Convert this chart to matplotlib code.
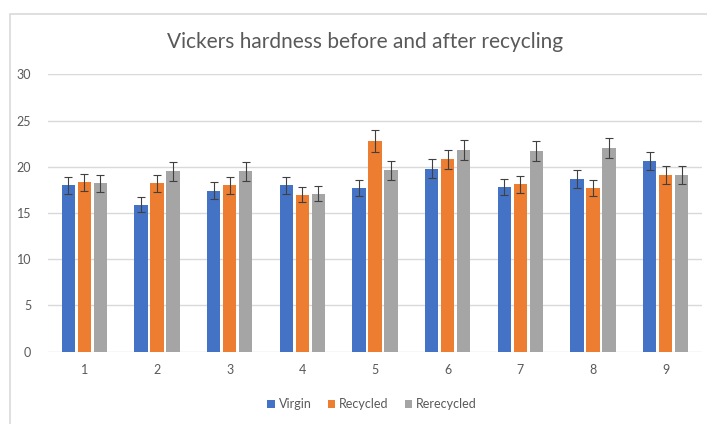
import matplotlib
matplotlib.use("Agg")
import matplotlib.pyplot as plt
from matplotlib.patches import Rectangle
import numpy as np

categories = ["1", "2", "3", "4", "5", "6", "7", "8", "9"]
virgin = [18.0, 15.9, 17.4, 18.0, 17.7, 19.8, 17.8, 18.7, 20.6]
recycled = [18.3, 18.2, 18.0, 17.0, 22.8, 20.8, 18.1, 17.7, 19.1]
rerecycled = [18.2, 19.5, 19.5, 17.1, 19.6, 21.8, 21.7, 22.0, 19.1]
virgin_err = [0.9, 0.8, 0.9, 0.9, 0.9, 1.0, 0.9, 0.95, 1.0]
recycled_err = [0.95, 0.9, 0.9, 0.85, 1.15, 1.05, 0.9, 0.9, 0.95]
rerecycled_err = [0.9, 1.0, 1.0, 0.85, 1.0, 1.1, 1.1, 1.1, 0.95]
series_names = ["Virgin", "Recycled", "Rerecycled"]
yticks = [0, 5, 10, 15, 20, 25, 30]

colors = ["#4472C4", "#ED7D31", "#A5A5A5"]
font = ["Lato", "DejaVu Sans"]
plt.rcParams["font.family"] = font

fig = plt.figure(figsize=(7.07, 4.24), dpi=100)
# outer chart frame
fig.patches.append(Rectangle((10/707, -0.1), 1.2, 1 - 14/424 + 0.1, transform=fig.transFigure,
                             fill=False, edgecolor="#D9D9D9", linewidth=1.2))
ax = fig.add_axes([48/707, 72.3/424, (702-48)/707, (351.7-74.3)/424])

x = np.arange(len(categories))
offset = 0.22
width = 0.185
data = [virgin, recycled, rerecycled]
errs = [virgin_err, recycled_err, rerecycled_err]
for i, (vals, err, c, name) in enumerate(zip(data, errs, colors, series_names)):
    pos = x + (i - 1) * offset
    ax.bar(pos, vals, width=width, color=c, label=name, zorder=2)
    ax.errorbar(pos, vals, yerr=err, fmt="none", ecolor="#404040", elinewidth=0.8,
                capsize=2.6, capthick=0.8, zorder=3)

ax.set_xlim(-0.5, len(categories) - 0.5)
ax.set_ylim(0, 30)
ax.set_yticks(yticks)
ax.set_xticks(x)
ax.set_xticklabels(categories)
ax.yaxis.grid(True, color="#D9D9D9", linewidth=1.0, zorder=0)
ax.set_axisbelow(True)
for s in ax.spines.values():
    s.set_visible(False)
ax.tick_params(axis="both", length=0, colors="#595959", labelsize=9)
ax.tick_params(axis="y", pad=12)
ax.tick_params(axis="x", pad=9)

fig.text(365/707, 1 - 42/424, "Vickers hardness before and after recycling",
         ha="center", va="center", fontsize=15, color="#595959")

handles, labels = ax.get_legend_handles_labels()
fig.legend(handles, labels, loc="center", bbox_to_anchor=(372/707, 1 - 404/424), ncol=3,
           frameon=False, fontsize=9, labelcolor="#595959", handlelength=0.6, handleheight=0.6,
           handletextpad=0.3, columnspacing=1.3)

fig.savefig("out.png", dpi=100)
